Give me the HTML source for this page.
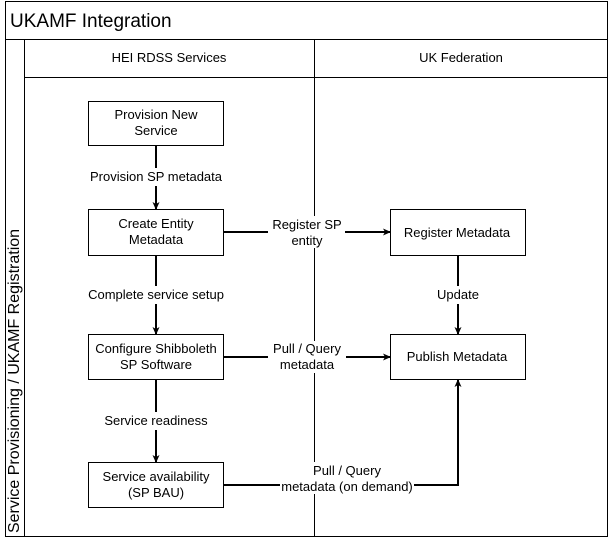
<!DOCTYPE html>
<html><head><style>body{margin:0;background:#fff}svg{display:block}text{font-family:"Liberation Sans",sans-serif;fill:#000}</style></head>
<body>
<svg width="609" height="542" viewBox="0 0 609 542" xmlns="http://www.w3.org/2000/svg">
<defs><marker id="a" markerWidth="8" markerHeight="8" refX="7" refY="4" orient="auto" markerUnits="userSpaceOnUse"><path d="M0,0.5 L8,4 L0,7.5 L2,4 z" fill="#000"/></marker></defs>
<g fill="none" stroke="#000" stroke-width="1">
<rect x="5.5" y="1.5" width="602" height="535"/>
<line x1="5.5" y1="39.5" x2="607.5" y2="39.5"/>
<line x1="24.5" y1="39.5" x2="24.5" y2="536.5"/>
<line x1="24.5" y1="77.5" x2="607.5" y2="77.5"/>
<line x1="314.5" y1="39.5" x2="314.5" y2="536.5"/>
<rect x="88.5" y="101.5" width="135" height="44" fill="#fff"/>
<rect x="88.5" y="209.5" width="135" height="46" fill="#fff"/>
<rect x="88.5" y="334.5" width="135" height="45" fill="#fff"/>
<rect x="88.5" y="462.5" width="135" height="45" fill="#fff"/>
<rect x="390.5" y="209.5" width="135" height="46" fill="#fff"/>
<rect x="390.5" y="334.5" width="135" height="45" fill="#fff"/>
</g>
<g stroke="#000" stroke-width="2" fill="none">
<line x1="156" y1="146" x2="156" y2="209" marker-end="url(#a)"/>
<line x1="156" y1="256" x2="156" y2="334" marker-end="url(#a)"/>
<line x1="156" y1="380" x2="156" y2="462" marker-end="url(#a)"/>
<line x1="224" y1="232" x2="390" y2="232" marker-end="url(#a)"/>
<line x1="224" y1="357" x2="390" y2="357" marker-end="url(#a)"/>
<line x1="458" y1="256" x2="458" y2="334" marker-end="url(#a)"/>
<polyline points="224,485 458,485 458,380" marker-end="url(#a)"/>
</g>
<g fill="#fff">
<rect x="86" y="168" width="140" height="18"/>
<rect x="84" y="286" width="145" height="18"/>
<rect x="100" y="412" width="112" height="18"/>
<rect x="268" y="216" width="77" height="32"/>
<rect x="268" y="341" width="78" height="32"/>
<rect x="280" y="462" width="134" height="32"/>
<rect x="434" y="286" width="48" height="18"/>
</g>
<text x="10" y="27" font-size="19">UKAMF Integration</text>
<text transform="translate(19,381) rotate(-90)" font-size="16" text-anchor="middle">Service Provisioning / UKAMF Registration</text>
<g font-size="13" text-anchor="middle">
<text x="169" y="62">HEI RDSS Services</text>
<text x="461" y="62">UK Federation</text>
<text x="156" y="119">Provision New</text><text x="156" y="135">Service</text>
<text x="156" y="181">Provision SP metadata</text>
<text x="156" y="228">Create Entity</text><text x="156" y="244">Metadata</text>
<text x="156" y="299">Complete service setup</text>
<text x="156" y="353">Configure Shibboleth</text><text x="156" y="369">SP Software</text>
<text x="156" y="425">Service readiness</text>
<text x="156" y="481">Service availability</text><text x="156" y="497">(SP BAU)</text>
<text x="307" y="229">Register SP</text><text x="307" y="245">entity</text>
<text x="307" y="353">Pull / Query</text><text x="307" y="369">metadata</text>
<text x="347" y="475">Pull / Query</text><text x="347" y="491">metadata (on demand)</text>
<text x="457" y="237">Register Metadata</text>
<text x="458" y="299">Update</text>
<text x="457" y="361">Publish Metadata</text>
</g>
</svg>
</body></html>
